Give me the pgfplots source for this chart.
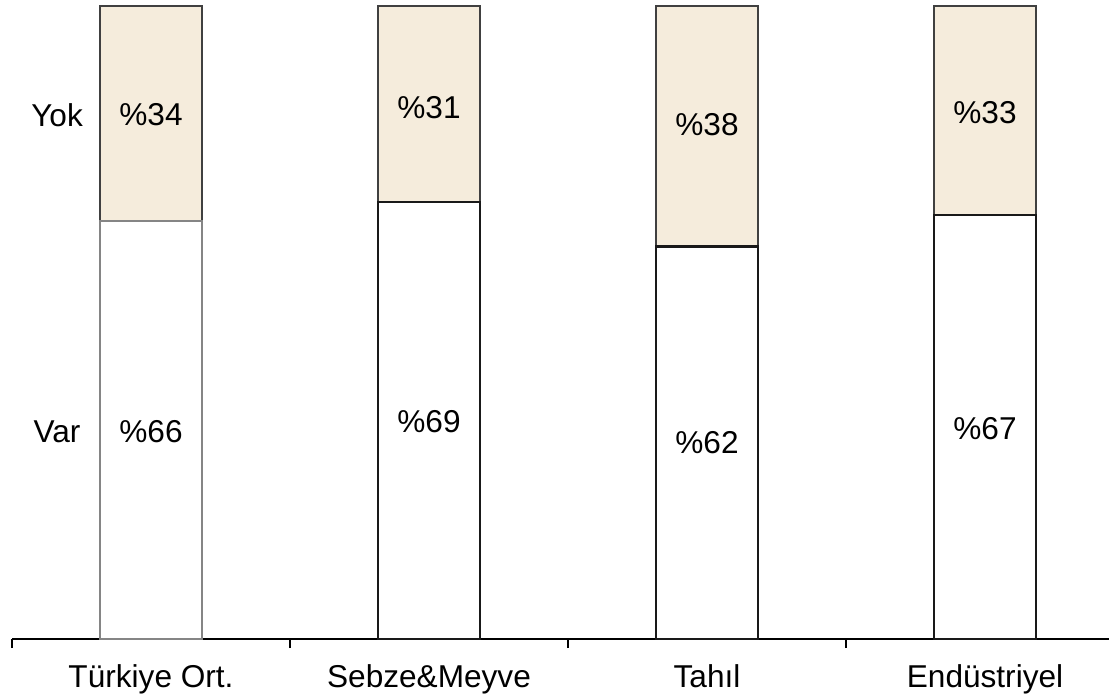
\documentclass[border=0pt]{standalone}
\usepackage{fontspec}
\setmainfont{Liberation Sans}
\usepackage{pgfplots}
\pgfplotsset{compat=1.18}
\usepackage{pgfplotstable}
\definecolor{beige}{HTML}{F5ECDC}
\definecolor{darkb}{HTML}{404040}
\definecolor{grayb}{HTML}{858585}

\pgfplotstableread{
x var yok
0 66 34
1 69 31
2 62 38
3 67 33
}\shares

\pgfplotstableread{
x var
1 69
2 62
3 67
}\varrest

\pgfplotstableread{
x y label
0 32.7 {\%66}
1 34.3 {\%69}
2 31.0 {\%62}
3 33.2 {\%67}
0 82.8 {\%34}
1 84.0 {\%31}
2 81.2 {\%38}
3 83.1 {\%33}
-0.338 82.8 {Yok}
-0.338 32.7 {Var}
}\labels

\begin{document}
\fontsize{15.8pt}{19pt}\selectfont
\begin{tikzpicture}
\path[use as bounding box] (0,0) rectangle (554.5pt,349pt);
\begin{axis}[
  at={(6pt,29.5pt)}, anchor=south west,
  scale only axis, width=548.5pt, height=316.5pt,
  xmin=-0.5, xmax=3.446, ymin=0, ymax=100,
  ybar stacked, bar width=51pt,
  axis x line=bottom, axis y line=none,
  x axis line style={-, line width=1pt, black},
  xtick={0,1,2,3},
  xticklabels={Türkiye Ort., Sebze\&Meyve, Tahıl, Endüstriyel},
  major tick length=0pt,
  minor xtick={-0.5,0.5,1.5,2.5},
  minor tick length=4.5pt,
  tick align=outside,
  minor tick style={black, line width=1pt},
  xticklabel style={font=\fontsize{15.8pt}{19pt}\selectfont, anchor=base, yshift=-24pt},
  clip=false,
]
\addplot[fill=white, draw=grayb, line width=1.2pt] table[x=x, y=var]{\shares};
\addplot[fill=beige, draw=darkb, line width=1.2pt] table[x=x, y=yok]{\shares};
\end{axis}
\begin{axis}[
  at={(6pt,29.5pt)}, anchor=south west,
  scale only axis, width=548.5pt, height=316.5pt,
  xmin=-0.5, xmax=3.446, ymin=0, ymax=100,
  hide axis, clip=false,
]
\addplot[ybar, bar width=51pt, bar shift=0pt, fill=white, draw=black!90, line width=1.2pt] table[x=x, y=var]{\varrest};
\addplot[only marks, mark=none, point meta=explicit symbolic,
  nodes near coords,
  nodes near coords style={anchor=center, font=\fontsize{15.8pt}{19pt}\selectfont, text=black}]
  table[x=x, y=y, meta=label]{\labels};
\end{axis}
\end{tikzpicture}
\end{document}
